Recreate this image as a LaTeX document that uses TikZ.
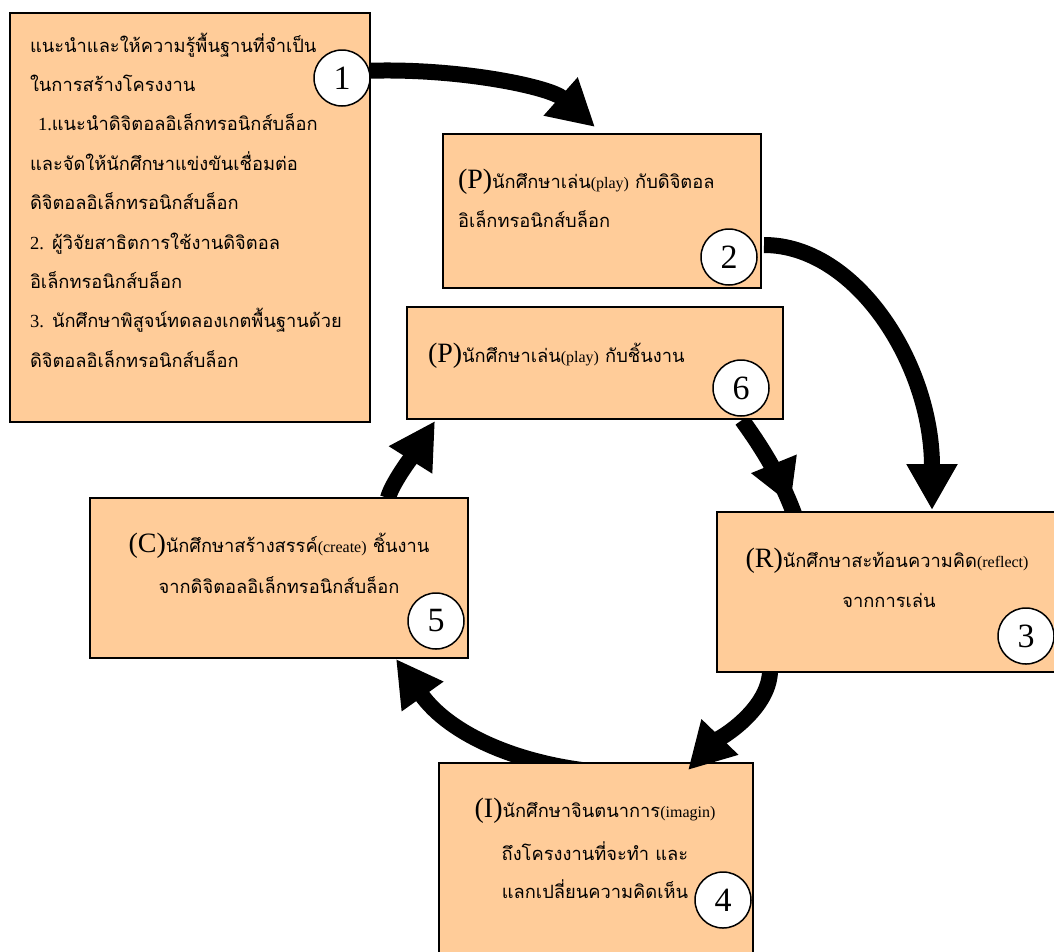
\documentclass[tikz,border=0pt]{standalone}
\usepackage{fontspec}
\setmainfont{Liberation Serif}
\newfontfamily\thfont[Script=Thai]{Loma}
\usetikzlibrary{arrows.meta,decorations.markings}
\definecolor{peach}{RGB}{255,204,153}
\pgfdeclarelayer{behind}
\pgfsetlayers{behind,main}

% stage tag such as (P), English gloss, Latin numerals
\newcommand\tag[1]{{\rmfamily\fontsize{28}{28}\selectfont #1}}
\newcommand\eng[1]{{\rmfamily\fontsize{16}{16}\selectfont #1}}
\newcommand\numr[1]{{\rmfamily\fontsize{18.5}{18.5}\selectfont #1}}

\tikzset{
  stage/.style={draw=black, line width=2pt, fill=peach, inner sep=0pt, outer sep=0pt},
  num/.style={circle, draw=black, line width=1.5pt, fill=white, minimum size=56pt,
              inner sep=0pt, outer sep=0pt, font=\rmfamily\fontsize{34}{34}\selectfont},
  txt/.style={inner sep=0pt, outer sep=0pt, font=\thfont\fontsize{18.3}{22}\selectfont},
  shaft/.style={line width=16pt, draw=black},
  flow/.style={shaft, -{Triangle[width=48pt,length=46pt]}},
}

\begin{document}
\begin{tikzpicture}[x=1pt,y=-1pt]
\useasboundingbox (0,0) rectangle (1054,951);
\clip (0,0) rectangle (1054,951);

% ---- stage boxes ----
\node[stage, minimum width=360pt, minimum height=409pt] (b1) at (190,217.5) {};
\node[stage, minimum width=318pt, minimum height=154pt] (b2) at (602,211) {};
\node[stage, minimum width=376pt, minimum height=112pt] (b6) at (595,363) {};
\node[stage, minimum width=378pt, minimum height=160pt] (b5) at (279,578) {};
\node[stage, minimum width=340pt, minimum height=160pt] (b3) at (887,592) {};
\node[stage, minimum width=314pt, minimum height=226pt] (b4) at (596,876) {};

% ---- numbered circles ----
\node[num] (c1) at (342,78) {1};
\node[num] (c2) at (729,257) {2};
\node[num] (c3) at (1026,636) {3};
\node[num] (c4) at (723,900) {4};
\node[num] (c5) at (436,621) {5};
\node[num] (c6) at (741,388) {6};

% ---- connector ends ----
\coordinate (t1) at (595,127);
\coordinate (s2) at (764,245);
\coordinate (t2) at (932,510);
\coordinate (s3) at (770,672);
\coordinate (t3) at (688,770);
\coordinate (s4) at (600,772);
\coordinate (t4) at (396,659);
\coordinate (s5) at (388,498);
\coordinate (t5) at (435,421);
\coordinate (s6) at (742,420);
\coordinate (e6) at (797,522);

% ---- cycle arrows (behind the boxes) ----
\begin{pgfonlayer}{behind}
\draw[flow] (c1.15) .. controls (460,68) and (550,87) .. (t1);
\draw[flow] (s2) .. controls (856,245) and (932,364) .. (t2);
\draw[shaft, postaction={decorate},
      decoration={markings, mark=at position 0.84 with {\arrow{Triangle[width=46pt,length=44pt]}}}]
      (s6) .. controls (760,445) and (782,478) .. (e6);
\draw[flow] (s4) .. controls (520,765) and (450,735) .. (t4);
\draw[flow] (s5) .. controls (392,482) and (418,448) .. (t5);
\end{pgfonlayer}
\draw[flow] (s3) .. controls (768,712) and (716,741) .. (t3);

% ---- box 1 ----
\node[txt, anchor=base west] (l1) at (30,52) {แนะนำและให้ความรู้พื้นฐานที่จำเป็น};
\node[txt, anchor=base west] (l2) at (30,91.4) {ในการสร้างโครงงาน};
\node[txt, anchor=base west] (l3) at (38,130.8) {\numr{1.}แนะนำดิจิตอลอิเล็กทรอนิกส์บล็อก};
\node[txt, anchor=base west] (l4) at (30,170.2) {และจัดให้นักศึกษาแข่งขันเชื่อมต่อ};
\node[txt, anchor=base west] (l5) at (30,209.6) {ดิจิตอลอิเล็กทรอนิกส์บล็อก};
\node[txt, anchor=base west] (l6) at (30,249) {\numr{2.} ผู้วิจัยสาธิตการใช้งานดิจิตอล};
\node[txt, anchor=base west] (l7) at (30,288.4) {อิเล็กทรอนิกส์บล็อก};
\node[txt, anchor=base west] (l8) at (30,327.8) {\numr{3.} นักศึกษาพิสูจน์ทดลองเกตพื้นฐานด้วย};
\node[txt, anchor=base west] (l9) at (30,367.2) {ดิจิตอลอิเล็กทรอนิกส์บล็อก};

% ---- box 2 ----
\node[txt, anchor=base west] (p1) at (458,188) {\tag{(P)}นักศึกษาเล่น\eng{(play)} กับดิจิตอล};
\node[txt, anchor=base west] (p2) at (458,227) {อิเล็กทรอนิกส์บล็อก};

% ---- box 6 ----
\node[txt, anchor=base west] (q1) at (428,362) {\tag{(P)}นักศึกษาเล่น\eng{(play)} กับชิ้นงาน};

% ---- box 5 ----
\node[txt, anchor=base] (k1) at (279,552) {\tag{(C)}นักศึกษาสร้างสรรค์\eng{(create)} ชิ้นงาน};
\node[txt, anchor=base] (k2) at (279,593) {จากดิจิตอลอิเล็กทรอนิกส์บล็อก};

% ---- box 3 ----
\node[txt, anchor=base] (r1) at (887,567) {\tag{(R)}นักศึกษาสะท้อนความคิด\eng{(reflect)}};
\node[txt, anchor=base] (r2) at (889,607) {จากการเล่น};

% ---- box 4 ----
\node[txt, anchor=base] (i1) at (595,817) {\tag{(I)}นักศึกษาจินตนาการ\eng{(imagin)}};
\node[txt, anchor=base] (i2) at (595,860) {ถึงโครงงานที่จะทำ และ};
\node[txt, anchor=base] (i3) at (595,898) {แลกเปลี่ยนความคิดเห็น};
\end{tikzpicture}
\end{document}
